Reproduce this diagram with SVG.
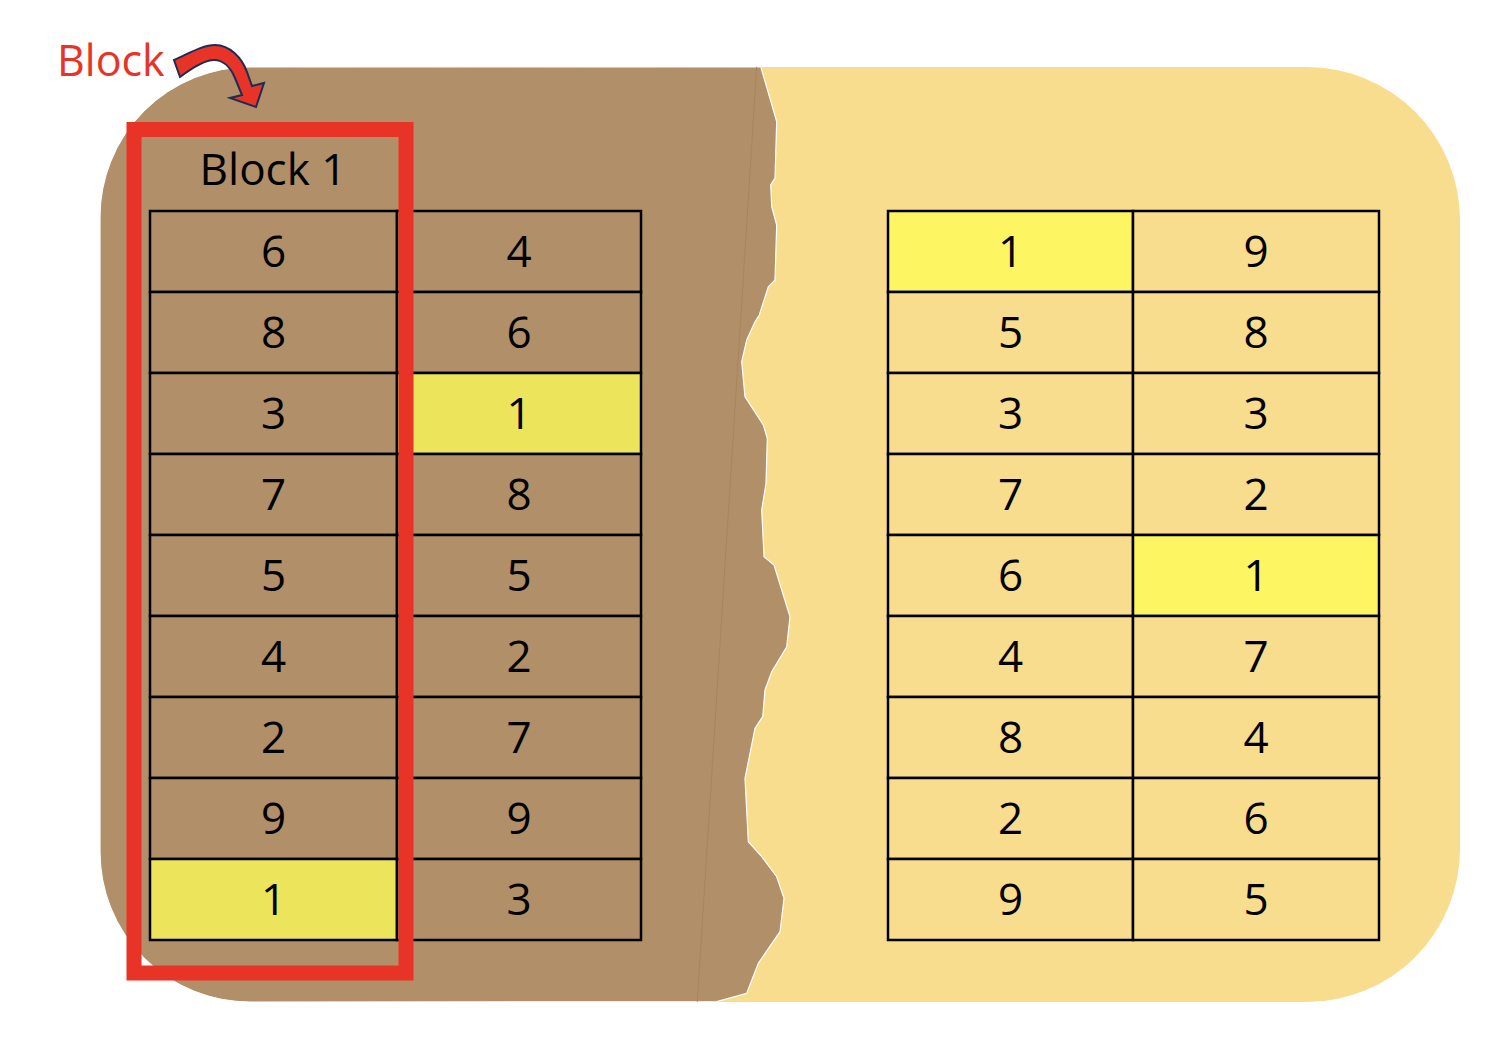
<svg xmlns="http://www.w3.org/2000/svg" width="1510" height="1040" viewBox="0 0 1510 1040">
<style>
.cell{stroke:#000;stroke-width:2.5}
.br{fill:#B18F69}
.ye{fill:#F8DD8F}
.hl1{fill:#ECE45A}
.hl2{fill:#FDF562}
.num{font-family:"Open Sans","Noto Sans",sans-serif;font-size:44px;fill:#000;text-anchor:middle}
</style>
<rect width="1510" height="1040" fill="#fff"/>
<g id="background">
<rect x="100" y="67" width="1360" height="935" rx="153" ry="153" fill="#F8DD8F"/>
<path d="M100,217 A150,150 0 0 1 250,67 L760.7,66.7 L776.7,121.7 L775,178 L770.7,185 L771.7,206.7 L776.7,225 L775,280 L768.3,286.7 L759.3,315 L755,321.7 L746.7,340 L741.7,361.7 L745,396.7 L763.3,425 L767.3,438.3 L766,483.3 L761.7,510 L764,556.7 L774,565 L790,616.7 L786.7,646.7 L771.7,671.7 L765,690 L762.7,716.7 L755,728.3 L745,778.3 L748.3,841.7 L761.7,856.7 L776.7,876.7 L784,898.3 L780,931.7 L758.3,963.3 L746.7,993.3 L716.7,1001.7 L250,1002 A150,150 0 0 1 100,852 Z" fill="#B18F69" stroke="#fff" stroke-width="1.2"/>
<line x1="756.7" y1="66.7" x2="697.3" y2="1001.7" stroke="#A8855C" stroke-width="1"/>
</g>
<g id="left-table">
<rect class="cell br" x="150" y="211" width="247" height="81"/><text class="num" x="273.5" y="267">6</text>
<rect class="cell br" x="150" y="292" width="247" height="81"/><text class="num" x="273.5" y="348">8</text>
<rect class="cell br" x="150" y="373" width="247" height="81"/><text class="num" x="273.5" y="429">3</text>
<rect class="cell br" x="150" y="454" width="247" height="81"/><text class="num" x="273.5" y="510">7</text>
<rect class="cell br" x="150" y="535" width="247" height="81"/><text class="num" x="273.5" y="591">5</text>
<rect class="cell br" x="150" y="616" width="247" height="81"/><text class="num" x="273.5" y="672">4</text>
<rect class="cell br" x="150" y="697" width="247" height="81"/><text class="num" x="273.5" y="753">2</text>
<rect class="cell br" x="150" y="778" width="247" height="81"/><text class="num" x="273.5" y="834">9</text>
<rect class="cell hl1" x="150" y="859" width="247" height="81"/><text class="num" x="273.5" y="915">1</text>
<rect class="cell br" x="397" y="211" width="244" height="81"/><text class="num" x="519" y="267">4</text>
<rect class="cell br" x="397" y="292" width="244" height="81"/><text class="num" x="519" y="348">6</text>
<rect class="cell hl1" x="397" y="373" width="244" height="81"/><text class="num" x="519" y="429">1</text>
<rect class="cell br" x="397" y="454" width="244" height="81"/><text class="num" x="519" y="510">8</text>
<rect class="cell br" x="397" y="535" width="244" height="81"/><text class="num" x="519" y="591">5</text>
<rect class="cell br" x="397" y="616" width="244" height="81"/><text class="num" x="519" y="672">2</text>
<rect class="cell br" x="397" y="697" width="244" height="81"/><text class="num" x="519" y="753">7</text>
<rect class="cell br" x="397" y="778" width="244" height="81"/><text class="num" x="519" y="834">9</text>
<rect class="cell br" x="397" y="859" width="244" height="81"/><text class="num" x="519" y="915">3</text>
</g>
<g id="right-table">
<rect class="cell hl2" x="888" y="211" width="245" height="81"/><text class="num" x="1010.5" y="267">1</text>
<rect class="cell ye" x="888" y="292" width="245" height="81"/><text class="num" x="1010.5" y="348">5</text>
<rect class="cell ye" x="888" y="373" width="245" height="81"/><text class="num" x="1010.5" y="429">3</text>
<rect class="cell ye" x="888" y="454" width="245" height="81"/><text class="num" x="1010.5" y="510">7</text>
<rect class="cell ye" x="888" y="535" width="245" height="81"/><text class="num" x="1010.5" y="591">6</text>
<rect class="cell ye" x="888" y="616" width="245" height="81"/><text class="num" x="1010.5" y="672">4</text>
<rect class="cell ye" x="888" y="697" width="245" height="81"/><text class="num" x="1010.5" y="753">8</text>
<rect class="cell ye" x="888" y="778" width="245" height="81"/><text class="num" x="1010.5" y="834">2</text>
<rect class="cell ye" x="888" y="859" width="245" height="81"/><text class="num" x="1010.5" y="915">9</text>
<rect class="cell ye" x="1133" y="211" width="246" height="81"/><text class="num" x="1256" y="267">9</text>
<rect class="cell ye" x="1133" y="292" width="246" height="81"/><text class="num" x="1256" y="348">8</text>
<rect class="cell ye" x="1133" y="373" width="246" height="81"/><text class="num" x="1256" y="429">3</text>
<rect class="cell ye" x="1133" y="454" width="246" height="81"/><text class="num" x="1256" y="510">2</text>
<rect class="cell hl2" x="1133" y="535" width="246" height="81"/><text class="num" x="1256" y="591">1</text>
<rect class="cell ye" x="1133" y="616" width="246" height="81"/><text class="num" x="1256" y="672">7</text>
<rect class="cell ye" x="1133" y="697" width="246" height="81"/><text class="num" x="1256" y="753">4</text>
<rect class="cell ye" x="1133" y="778" width="246" height="81"/><text class="num" x="1256" y="834">6</text>
<rect class="cell ye" x="1133" y="859" width="246" height="81"/><text class="num" x="1256" y="915">5</text>
</g>
<g id="block1">
<text class="num" x="273" y="185" font-size="43">Block 1</text>
<rect x="134" y="129.5" width="272" height="843.5" fill="none" stroke="#E83426" stroke-width="15"/>
</g>
<g id="block-label">
<text x="57" y="76" font-family="'Open Sans','Noto Sans',sans-serif" font-size="43" fill="#E83426">Block</text>
</g>
<g id="connectors">
<path d="M174,60 C188,54 202,45 215,45 C230,45 242,58 247,72 L252,86 L264,83 L256,107 L230,98 L242,95 L235,78 C230,66 222,60 214,60 C204,60 192,68 180,77 Z" fill="#E83426" stroke="#1D2B55" stroke-width="2" stroke-linejoin="miter"/>
</g>
</svg>
